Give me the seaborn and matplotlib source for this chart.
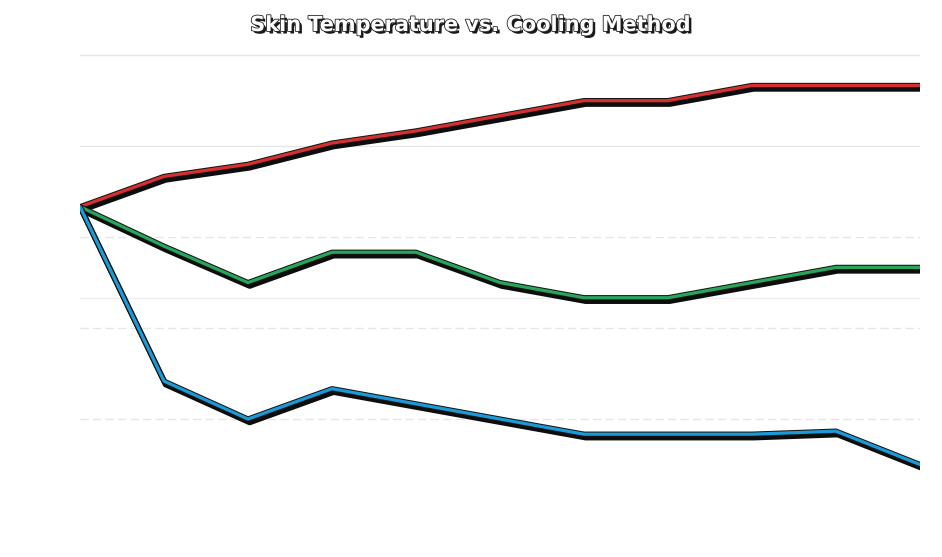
import numpy as np
import pandas as pd
import seaborn as sns
import matplotlib
matplotlib.use("Agg")
import matplotlib.pyplot as plt
import matplotlib.patheffects as pe

# Data
minutes = [0, 5, 10, 15, 20, 25, 30, 35, 40, 45, 50]
no_cooling = [34.0, 35.0, 35.4, 36.1, 36.5, 37.0, 37.5, 37.5, 38.0, 38.0, 38.0]
fan = [34.0, 32.7, 31.5, 32.5, 32.5, 31.5, 31.0, 31.0, 31.5, 32.0, 32.0]
ice_pack = [34.0, 28.25, 27.0, 28.0, 27.5, 27.0, 26.5, 26.5, 26.5, 26.6, 25.5]

methods = ["No Cooling", "Fan", "Ice Pack"]
colors = ["#d62f2f", "#27a55a", "#1a9bd7"]
y_ticks = [27, 30, 33, 36, 39]
dashed_ticks = [27, 30, 33]
threshold = 31.0

df = pd.DataFrame({
    "Time (minutes)": minutes * 3,
    "Skin Temperature (°C)": no_cooling + fan + ice_pack,
    "Method": np.repeat(methods, len(minutes)),
})

sns.set_theme(style="white")
plt.rcParams["font.family"] = ["DejaVu Sans"]

fig = plt.figure(figsize=(9.42, 5.57), dpi=100)
fig.patch.set_facecolor("white")
ax = fig.add_axes([80 / 942, 1 - 510 / 557, 840 / 942, 467 / 557])
ax.set_facecolor("white")

sns.lineplot(data=df, x="Time (minutes)", y="Skin Temperature (°C)",
             hue="Method", palette=colors, linewidth=2.3, legend=False, ax=ax)

# black outline + drop shadow on every line
for line in ax.get_lines():
    line.set_solid_capstyle("round")
    line.set_solid_joinstyle("round")
    line.set_path_effects([
        pe.SimpleLineShadow(offset=(1.2, -2.4), shadow_color="black", alpha=0.95, linewidth=4.2),
        pe.Stroke(linewidth=3.8, foreground="#151515"),
        pe.Normal(),
    ])

ax.set_xlim(minutes[0], minutes[-1])
ax.set_ylim(24, 39.4)
ax.set_yticks(y_ticks)

# faint grid, lower lines dashed
ax.grid(axis="y", color="#e6e6e6", linewidth=1)
for tick, gl in zip(y_ticks, ax.get_ygridlines()):
    if tick in dashed_ticks:
        gl.set_linestyle((0, (6, 3)))
ax.axhline(threshold, color="#ececec", linewidth=1, zorder=0)

for s in ax.spines.values():
    s.set_visible(False)

# text is white as in the reference (made for a dark background)
ax.tick_params(colors="white", labelsize=10, length=0)
ax.set_xlabel("Time (minutes)", color="white", fontsize=11)
ax.set_ylabel("Skin Temperature (°C)", color="white", fontsize=11)

fig.text(0.5, 1 - 25 / 557, "Skin Temperature vs. Cooling Method",
         ha="center", va="center", fontsize=15, fontweight="bold", color="white",
         path_effects=[pe.SimplePatchShadow(offset=(1.8, -1.8), shadow_rgbFace="black", alpha=0.9),
                       pe.Stroke(linewidth=1.2, foreground="#222222"), pe.Normal()])

fig.savefig("out.png", dpi=100, facecolor="white")
